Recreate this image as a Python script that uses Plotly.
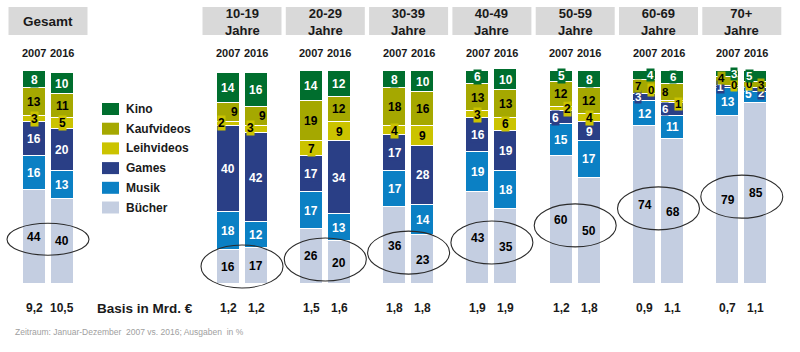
import plotly.graph_objects as go

# ---------------- data ----------------
groups = ["Gesamt", "10-19<br>Jahre", "20-29<br>Jahre", "30-39<br>Jahre", "40-49<br>Jahre",
          "50-59<br>Jahre", "60-69<br>Jahre", "70+<br>Jahre"]
years = ["2007", "2016"]
categories = ["Bücher", "Musik", "Games", "Leihvideos", "Kaufvideos", "Kino"]

buecher_2007 = [44, 16, 26, 36, 43, 60, 74, 79]
buecher_2016 = [40, 17, 20, 23, 35, 50, 68, 85]
musik_2007 = [16, 18, 17, 17, 19, 15, 12, 13]
musik_2016 = [13, 12, 13, 14, 18, 17, 11, 5]
games_2007 = [16, 40, 17, 17, 16, 6, 3, 1]
games_2016 = [20, 42, 34, 28, 19, 9, 6, 2]
leih_2007 = [3, 2, 7, 4, 3, 2, 0, 0]
leih_2016 = [5, 3, 9, 9, 6, 4, 1, 0]
kauf_2007 = [13, 9, 19, 18, 13, 12, 7, 4]
kauf_2016 = [11, 9, 12, 16, 13, 12, 8, 3]
kino_2007 = [8, 14, 14, 8, 6, 5, 4, 3]
kino_2016 = [10, 16, 12, 10, 10, 8, 6, 5]

basis_2007 = ["9,2", "1,2", "1,5", "1,8", "1,9", "1,2", "0,9", "0,7"]
basis_2016 = ["10,5", "1,2", "1,6", "1,8", "1,9", "1,8", "1,1", "1,1"]

values = {
    "Bücher": (buecher_2007, buecher_2016),
    "Musik": (musik_2007, musik_2016),
    "Games": (games_2007, games_2016),
    "Leihvideos": (leih_2007, leih_2016),
    "Kaufvideos": (kauf_2007, kauf_2016),
    "Kino": (kino_2007, kino_2016),
}

# ---------------- styles ----------------
colors = {
    "Kino": "#006e2e",
    "Kaufvideos": "#a5a800",
    "Leihvideos": "#cbc300",
    "Games": "#2a3f86",
    "Musik": "#0b80c4",
    "Bücher": "#c4cee1",
}
text_colors = {
    "Kino": "white", "Kaufvideos": "black", "Leihvideos": "black",
    "Games": "white", "Musik": "white", "Bücher": "black",
}
FONT = "Arial, Liberation Sans, sans-serif"

# layout in pixel units
W, H = 800, 352
BASE_PY = 284.0      # pixel row of value 0
PX_PER = 2.13        # pixels per percent
group_pos = [48] + [242 + 83.3 * i for i in range(7)]
BAR_OFF = 14
BAR_W = 23

def py2y(py):
    return (BASE_PY - py) / PX_PER

# label offsets for small segments: (group, year, category) -> (dx px, dy px down)
offsets = {
    (1, 0, "Kaufvideos"): (6.5, -1), (1, 0, "Leihvideos"): (-6.5, -1),
    (1, 1, "Kaufvideos"): (6, -1), (1, 1, "Leihvideos"): (-6, -1.5),
    (5, 0, "Leihvideos"): (6, 0), (5, 0, "Games"): (-6, 0),
    (6, 0, "Kino"): (6, 0), (6, 0, "Kaufvideos"): (-6.5, -1), (6, 0, "Leihvideos"): (6, -4),
    (6, 0, "Games"): (-6.5, -1),
    (6, 1, "Kaufvideos"): (-7.5, 0), (6, 1, "Leihvideos"): (5.5, 2), (6, 1, "Games"): (-7.5, 0),
    (7, 0, "Kino"): (6, 0), (7, 0, "Kaufvideos"): (-6.5, -4), (7, 0, "Leihvideos"): (6, -1),
    (7, 0, "Games"): (-7, 0),
    (7, 1, "Kino"): (-6.5, 0), (7, 1, "Leihvideos"): (-6.5, -4), (7, 1, "Kaufvideos"): (5.5, 0),
    (7, 1, "Games"): (5.5, 3), (7, 1, "Musik"): (-7.5, -4),
}
# crowded bars use a slightly smaller label font
tight = {(6, 0), (6, 1), (7, 0), (7, 1)}

fig = go.Figure()

bar_x = []
for g in group_pos:
    bar_x += [g - BAR_OFF, g + BAR_OFF]

for cat in categories:
    v07, v16 = values[cat]
    yv = []
    for a, b in zip(v07, v16):
        yv += [a, b]
    fig.add_trace(go.Bar(
        x=bar_x, y=yv, width=BAR_W, name=cat,
        marker=dict(color=colors[cat], line=dict(color="white", width=1)),
        hoverinfo="skip", showlegend=False,
    ))

annotations = []
shapes = []

# segment labels
for gi in range(len(groups)):
    for yi in range(2):
        cum = 0
        for cat in categories:
            v = values[cat][yi][gi]
            center = cum + v / 2
            cum += v
            dx, dy = offsets.get((gi, yi, cat), (0, 0))
            small = (gi, yi) in tight and cat not in ("Bücher", "Musik")
            annotations.append(dict(
                x=group_pos[gi] + (BAR_OFF if yi else -BAR_OFF), y=center,
                xshift=dx, yshift=-dy, text="<b>%d</b>" % v, xref="x", yref="y",
                showarrow=False, bgcolor=colors[cat], borderpad=0,
                font=dict(family=FONT, size=11.5 if small else 12, color=text_colors[cat]),
            ))

# ellipses around Bücher labels
for gi in range(len(groups)):
    c07 = buecher_2007[gi] / 2
    c16 = buecher_2016[gi] / 2
    cy = (c07 + c16) / 2
    ry = (16 if gi == 0 else 21.5) / PX_PER
    shapes.append(dict(type="circle", xref="x", yref="y",
                       x0=group_pos[gi] - 41, x1=group_pos[gi] + 41,
                       y0=cy - ry, y1=cy + ry,
                       line=dict(color="#2b2b2b", width=1.1)))

# headers
for gi, name in enumerate(groups):
    shapes.append(dict(type="rect", xref="x", yref="y",
                       x0=group_pos[gi] - 39.5, x1=group_pos[gi] + 39.5,
                       y0=py2y(35), y1=py2y(7), fillcolor="#d9d9d9",
                       line=dict(width=0), layer="below"))
    annotations.append(dict(x=group_pos[gi], y=py2y(21.5 if gi == 0 else 22), xref="x", yref="y",
                            text="<b>%s</b>" % name, showarrow=False,
                            font=dict(family=FONT, size=13.5 if gi == 0 else 13, color="#1a1a1a")))
    for yi, yr in enumerate(years):
        bx = group_pos[gi] + (BAR_OFF if yi else -BAR_OFF)
        annotations.append(dict(x=bx, y=py2y(53), xref="x", yref="y",
                                text="<b>%s</b>" % yr, showarrow=False,
                                font=dict(family=FONT, size=11, color="#1a1a1a")))
        bas = (basis_2007, basis_2016)[yi][gi]
        annotations.append(dict(x=bx, y=py2y(308), xref="x", yref="y",
                                text="<b>%s</b>" % bas, showarrow=False,
                                font=dict(family=FONT, size=12, color="#1a1a1a")))

annotations.append(dict(x=145, y=py2y(308), xref="x", yref="y",
                        text="<b>Basis in Mrd. €</b>", showarrow=False,
                        font=dict(family=FONT, size=13.5, color="#1a1a1a")))
annotations.append(dict(x=13, y=py2y(332), xref="x", yref="y", xanchor="left",
                        text="Zeitraum: Januar-Dezember  2007 vs. 2016; Ausgaben  in %",
                        showarrow=False,
                        font=dict(family=FONT, size=8.5, color="#a0a0a0")))

# custom legend
for i, cat in enumerate(categories[::-1]):
    cy = 109 + 19.7 * i
    shapes.append(dict(type="rect", xref="x", yref="y",
                       x0=102, x1=119, y0=py2y(cy + 6), y1=py2y(cy - 6),
                       fillcolor=colors[cat], line=dict(width=0)))
    annotations.append(dict(x=124, y=py2y(cy), xref="x", yref="y", xanchor="left",
                            text="<b>%s</b>" % cat, showarrow=False,
                            font=dict(family=FONT, size=12, color="#1a1a1a")))

fig.update_layout(
    width=W, height=H, margin=dict(l=0, r=0, t=0, b=0),
    paper_bgcolor="white", plot_bgcolor="white",
    barmode="stack", bargap=0,
    xaxis=dict(range=[0, W], visible=False, fixedrange=True),
    yaxis=dict(range=[py2y(H), py2y(0)], visible=False, fixedrange=True),
    annotations=annotations, shapes=shapes, showlegend=False,
)

fig.write_html("out.html")
